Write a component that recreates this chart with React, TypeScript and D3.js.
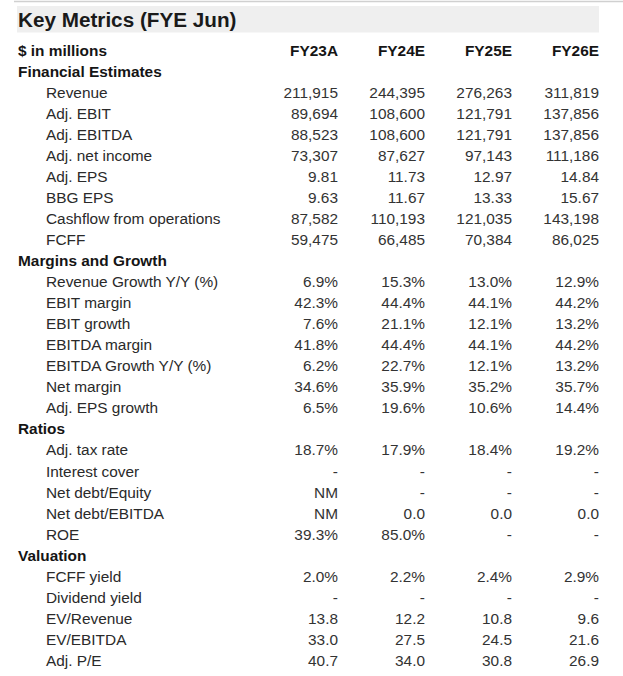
import React from "react";
import * as d3 from "d3";

const TITLE = "Key Metrics (FYE Jun)";
const UNIT_LABEL = "$ in millions";
const years = ["FY23A", "FY24E", "FY25E", "FY26E"];

// Section names and their metric rows
const sections = ["Financial Estimates", "Margins and Growth", "Ratios", "Valuation"];

const financialLabels = ["Revenue", "Adj. EBIT", "Adj. EBITDA", "Adj. net income", "Adj. EPS", "BBG EPS", "Cashflow from operations", "FCFF"];
const marginLabels = ["Revenue Growth Y/Y (%)", "EBIT margin", "EBIT growth", "EBITDA margin", "EBITDA Growth Y/Y (%)", "Net margin", "Adj. EPS growth"];
const ratioLabels = ["Adj. tax rate", "Interest cover", "Net debt/Equity", "Net debt/EBITDA", "ROE"];
const valuationLabels = ["FCFF yield", "Dividend yield", "EV/Revenue", "EV/EBITDA", "Adj. P/E"];

// values per year column (displayed strings), same order as labels
const financialFY23A = ["211,915", "89,694", "88,523", "73,307", "9.81", "9.63", "87,582", "59,475"];
const financialFY24E = ["244,395", "108,600", "108,600", "87,627", "11.73", "11.67", "110,193", "66,485"];
const financialFY25E = ["276,263", "121,791", "121,791", "97,143", "12.97", "13.33", "121,035", "70,384"];
const financialFY26E = ["311,819", "137,856", "137,856", "111,186", "14.84", "15.67", "143,198", "86,025"];

const marginFY23A = ["6.9%", "42.3%", "7.6%", "41.8%", "6.2%", "34.6%", "6.5%"];
const marginFY24E = ["15.3%", "44.4%", "21.1%", "44.4%", "22.7%", "35.9%", "19.6%"];
const marginFY25E = ["13.0%", "44.1%", "12.1%", "44.1%", "12.1%", "35.2%", "10.6%"];
const marginFY26E = ["12.9%", "44.2%", "13.2%", "44.2%", "13.2%", "35.7%", "14.4%"];

const ratioFY23A = ["18.7%", "-", "NM", "NM", "39.3%"];
const ratioFY24E = ["17.9%", "-", "-", "0.0", "85.0%"];
const ratioFY25E = ["18.4%", "-", "-", "0.0", "-"];
const ratioFY26E = ["19.2%", "-", "-", "0.0", "-"];

const valuationFY23A = ["2.0%", "-", "13.8", "33.0", "40.7"];
const valuationFY24E = ["2.2%", "-", "12.2", "27.5", "34.0"];
const valuationFY25E = ["2.4%", "-", "10.8", "24.5", "30.8"];
const valuationFY26E = ["2.9%", "-", "9.6", "21.6", "26.9"];

type Row = { kind: "header" | "section" | "item"; label: string; values: string[] };

function buildRows(): Row[] {
  const groups = [
    { labels: financialLabels, cols: [financialFY23A, financialFY24E, financialFY25E, financialFY26E] },
    { labels: marginLabels, cols: [marginFY23A, marginFY24E, marginFY25E, marginFY26E] },
    { labels: ratioLabels, cols: [ratioFY23A, ratioFY24E, ratioFY25E, ratioFY26E] },
    { labels: valuationLabels, cols: [valuationFY23A, valuationFY24E, valuationFY25E, valuationFY26E] },
  ];
  const rows: Row[] = [{ kind: "header", label: UNIT_LABEL, values: years }];
  groups.forEach((g, gi) => {
    rows.push({ kind: "section", label: sections[gi], values: [] });
    g.labels.forEach((l, i) => rows.push({ kind: "item", label: l, values: g.cols.map((c) => c[i]) }));
  });
  return rows;
}

const W = 623;
const H = 676;
const FONT = "'Liberation Sans', Arial, Helvetica, sans-serif";

export default function App() {
  const rows = buildRows();
  const y = d3.scaleLinear().domain([0, rows.length - 1]).range([55.5, 55.5 + 21.05 * (rows.length - 1)]);
  const x = d3.scalePoint<string>().domain(years).range([338, 599]);

  return (
    <svg width={W} height={H} style={{ position: "absolute", left: 0, top: 0, background: "#fff" }} fontFamily={FONT}>
      <rect x={0} y={0} width={W} height={H} fill="#fff" />
      <line x1={14} x2={W} y1={1.5} y2={1.5} stroke="#d0d0d0" strokeWidth={1.5} />
      <rect x={17} y={6} width={582} height={26.5} fill="#efefef" />
      <text x={18} y={27} fontSize={20.7} fontWeight="bold" fill="#1a1a1a">{TITLE}</text>
      {rows.map((r, i) => (
        <g key={i}>
          <text
            x={r.kind === "item" ? 46 : 18}
            y={y(i)}
            fontSize={15.4}
            fontWeight={r.kind === "item" ? "normal" : "bold"}
            fill={r.kind === "item" ? "#2a2a2a" : "#151515"}
          >
            {r.label}
          </text>
          {r.values.map((v, j) => (
            <text
              key={j}
              x={x(years[j])}
              y={y(i)}
              fontSize={15.4}
              textAnchor="end"
              fontWeight={r.kind === "header" ? "bold" : "normal"}
              fill={r.kind === "header" ? "#151515" : "#333"}
            >
              {v}
            </text>
          ))}
        </g>
      ))}
    </svg>
  );
}
